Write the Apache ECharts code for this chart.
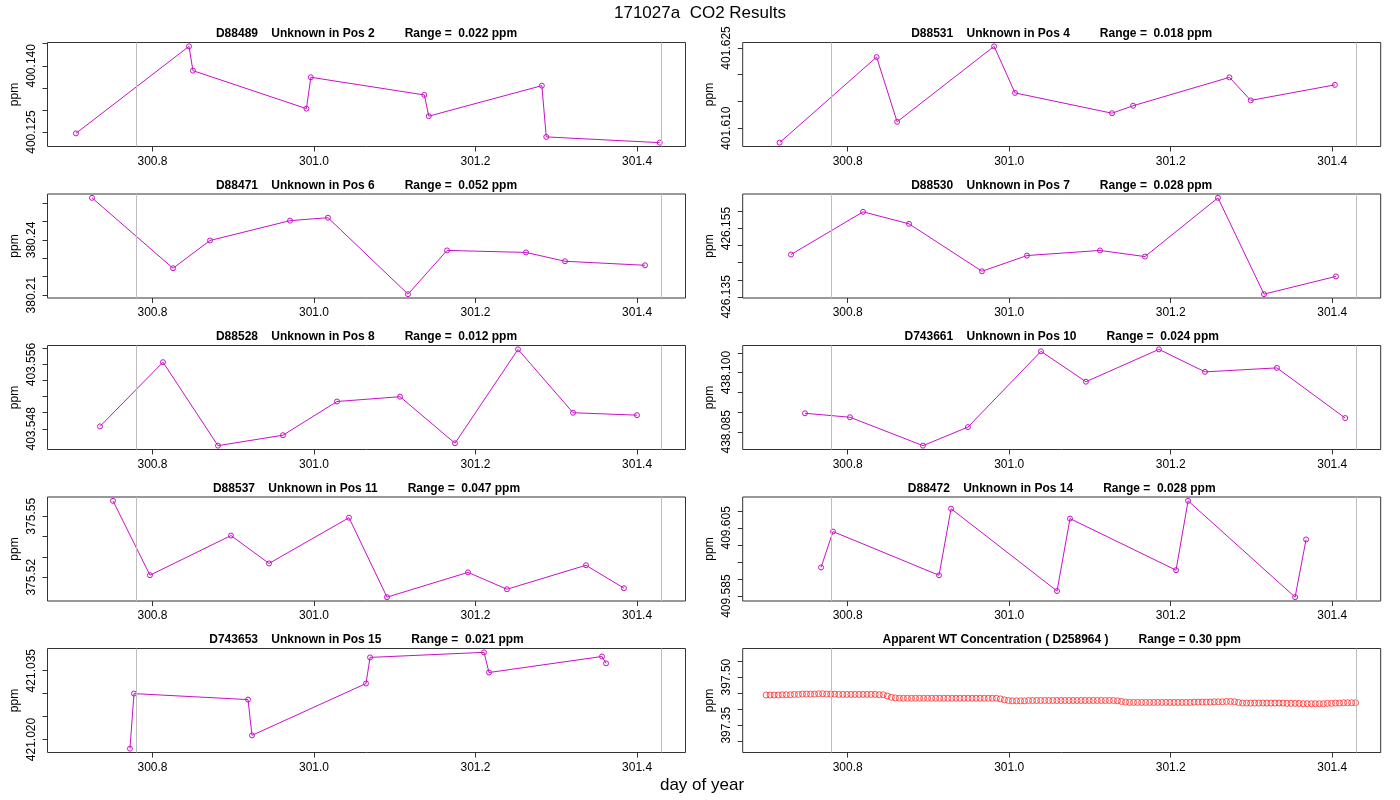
<!DOCTYPE html>
<html>
<head>
<meta charset="utf-8">
<script src="https://cdn.jsdelivr.net/npm/echarts@6/dist/echarts.min.js"></script>
<style>html,body{margin:0;padding:0;background:#fff}#c{width:1400px;height:800px}</style>
</head>
<body>
<div id="c"></div>
<script>
// ---------- data ----------
const mainTitle = '171027a  CO2 Results';
const xAxisTitle = 'day of year';
const xTickValues = [300.8, 301.0, 301.2, 301.4];
const xRange = [300.670, 301.460];
const refLineDays = [300.776, 301.431];

const panelTitles = [
  'D88489    Unknown in Pos 2         Range =  0.022 ppm',
  'D88531    Unknown in Pos 4         Range =  0.018 ppm',
  'D88471    Unknown in Pos 6         Range =  0.052 ppm',
  'D88530    Unknown in Pos 7         Range =  0.028 ppm',
  'D88528    Unknown in Pos 8         Range =  0.012 ppm',
  'D743661    Unknown in Pos 10         Range =  0.024 ppm',
  'D88537    Unknown in Pos 11         Range =  0.047 ppm',
  'D88472    Unknown in Pos 14         Range =  0.028 ppm',
  'D743653    Unknown in Pos 15         Range =  0.021 ppm',
  'Apparent WT Concentration ( D258964 )         Range = 0.30 ppm'
];

const p1Time = [300.7052, 300.8452, 300.8501, 300.9906, 300.9961, 301.1366, 301.1421, 301.2821, 301.2876, 301.4281];
const p1Ppm  = [400.1247, 400.1444, 400.1389, 400.1303, 400.1374, 400.1334, 400.1286, 400.1355, 400.1239, 400.1226];
const p2Time = [300.7157, 300.8358, 300.8612, 300.9813, 301.0072, 301.1273, 301.1534, 301.2727, 301.2991, 301.4033];
const p2Ppm  = [401.6073, 401.6233, 401.6112, 401.6253, 401.6166, 401.6128, 401.6142, 401.6195, 401.6152, 401.6181];
const p3Time = [300.7251, 300.8254, 300.8712, 300.9703, 301.0173, 301.1164, 301.1647, 301.2625, 301.3108, 301.4099];
const p3Ppm  = [380.2629, 380.2246, 380.2397, 380.2505, 380.2521, 380.2105, 380.2343, 380.2332, 380.2284, 380.2262];
const p4Time = [300.7298, 300.8190, 300.8759, 300.9663, 301.0220, 301.1124, 301.1681, 301.2585, 301.3155, 301.4046];
const p4Ppm  = [426.1474, 426.1599, 426.1564, 426.1425, 426.1471, 426.1486, 426.1468, 426.1640, 426.1358, 426.1410];
const p5Time = [300.7350, 300.8130, 300.8811, 300.9616, 301.0285, 301.1065, 301.1746, 301.2526, 301.3207, 301.3999];
const p5Ppm  = [403.5483, 403.5563, 403.5459, 403.5472, 403.5514, 403.5520, 403.5462, 403.5579, 403.5500, 403.5497];
const p6Time = [300.7471, 300.8028, 300.8932, 300.9489, 301.0393, 301.0950, 301.1854, 301.2424, 301.3315, 301.4160];
const p6Ppm  = [438.0897, 438.0887, 438.0815, 438.0862, 438.1054, 438.0977, 438.1059, 438.1002, 438.1012, 438.0885];
const p7Time = [300.7511, 300.7969, 300.8972, 300.9443, 301.0433, 301.0904, 301.1907, 301.2389, 301.3368, 301.3838];
const p7Ppm  = [375.5576, 375.5210, 375.5405, 375.5268, 375.5493, 375.5102, 375.5224, 375.5141, 375.5259, 375.5146];
const p8Time = [300.7670, 300.7818, 300.9131, 300.9280, 301.0592, 301.0753, 301.2066, 301.2215, 301.3540, 301.3676];
const p8Ppm  = [409.5934, 409.6039, 409.5911, 409.6106, 409.5865, 409.6077, 409.5926, 409.6129, 409.5847, 409.6016];
const p9Time = [300.7721, 300.7771, 300.9183, 300.9232, 301.0644, 301.0694, 301.2105, 301.2167, 301.3566, 301.3616];
const p9Ppm  = [421.0180, 421.0300, 421.0287, 421.0209, 421.0322, 421.0379, 421.0390, 421.0346, 421.0381, 421.0366];

const wtTime = [
  300.699, 300.704, 300.709, 300.714, 300.719, 300.724, 300.729, 300.734, 300.739, 300.744,
  300.749, 300.754, 300.759, 300.764, 300.769, 300.774, 300.779, 300.784, 300.789, 300.794,
  300.799, 300.804, 300.809, 300.814, 300.819, 300.824, 300.829, 300.834, 300.839, 300.844,
  300.849, 300.854, 300.859, 300.864, 300.869, 300.874, 300.879, 300.884, 300.889, 300.894,
  300.899, 300.904, 300.909, 300.914, 300.919, 300.924, 300.929, 300.934, 300.939, 300.944,
  300.949, 300.954, 300.959, 300.964, 300.969, 300.974, 300.979, 300.984, 300.989, 300.994,
  300.999, 301.004, 301.009, 301.014, 301.019, 301.024, 301.029, 301.034, 301.039, 301.044,
  301.049, 301.054, 301.059, 301.064, 301.069, 301.074, 301.079, 301.084, 301.089, 301.094,
  301.099, 301.104, 301.109, 301.114, 301.119, 301.124, 301.129, 301.134, 301.139, 301.144,
  301.149, 301.154, 301.159, 301.164, 301.169, 301.174, 301.179, 301.184, 301.189, 301.194,
  301.199, 301.204, 301.209, 301.214, 301.219, 301.224, 301.229, 301.234, 301.239, 301.244,
  301.249, 301.254, 301.259, 301.264, 301.269, 301.274, 301.279, 301.284, 301.289, 301.294,
  301.299, 301.304, 301.309, 301.314, 301.319, 301.324, 301.329, 301.334, 301.339, 301.344,
  301.349, 301.354, 301.359, 301.364, 301.369, 301.374, 301.379, 301.384, 301.389, 301.394,
  301.399, 301.404, 301.409, 301.414, 301.419, 301.424, 301.429
];
const wtPpm = [
  397.444, 397.444, 397.444, 397.444, 397.445, 397.445, 397.445, 397.446, 397.446, 397.447,
  397.447, 397.447, 397.447, 397.448, 397.448, 397.447, 397.447, 397.447, 397.446, 397.446,
  397.446, 397.446, 397.446, 397.446, 397.446, 397.446, 397.446, 397.446, 397.445, 397.445,
  397.441, 397.437, 397.435, 397.434, 397.434, 397.434, 397.434, 397.434, 397.434, 397.434,
  397.434, 397.434, 397.434, 397.434, 397.434, 397.434, 397.434, 397.434, 397.434, 397.434,
  397.434, 397.434, 397.434, 397.434, 397.434, 397.434, 397.434, 397.434, 397.432, 397.429,
  397.427, 397.426, 397.426, 397.426, 397.426, 397.427, 397.427, 397.427, 397.427, 397.427,
  397.427, 397.427, 397.427, 397.427, 397.427, 397.427, 397.427, 397.427, 397.427, 397.427,
  397.427, 397.427, 397.427, 397.427, 397.427, 397.427, 397.427, 397.426, 397.424, 397.422,
  397.421, 397.421, 397.421, 397.421, 397.421, 397.421, 397.421, 397.421, 397.421, 397.421,
  397.421, 397.421, 397.421, 397.421, 397.421, 397.421, 397.422, 397.422, 397.422, 397.422,
  397.422, 397.423, 397.423, 397.423, 397.424, 397.424, 397.423, 397.421, 397.419, 397.419,
  397.419, 397.419, 397.419, 397.419, 397.419, 397.419, 397.419, 397.419, 397.419, 397.418,
  397.418, 397.418, 397.418, 397.417, 397.417, 397.417, 397.417, 397.417, 397.417, 397.418,
  397.418, 397.419, 397.419, 397.420, 397.420, 397.420, 397.420
];
const wtYRange = [397.265, 397.589];

// y-axis ticks and the labels R managed to print
const yTicks = [
  [400.125, 400.130, 400.135, 400.140, 400.145],
  [401.610, 401.615, 401.620, 401.625],
  [380.21, 380.22, 380.23, 380.24, 380.25, 380.26],
  [426.135, 426.140, 426.145, 426.150, 426.155, 426.160],
  [403.548, 403.550, 403.552, 403.554, 403.556, 403.558],
  [438.085, 438.090, 438.095, 438.100, 438.105],
  [375.52, 375.53, 375.54, 375.55],
  [409.585, 409.590, 409.595, 409.600, 409.605, 409.610],
  [421.020, 421.025, 421.030, 421.035],
  [397.30, 397.35, 397.40, 397.45, 397.50, 397.55]
];
const yLabels = [
  ['400.125', '400.140'],
  ['401.610', '401.625'],
  ['380.21', '380.24'],
  ['426.135', '426.155'],
  ['403.548', '403.556'],
  ['438.085', '438.100'],
  ['375.52', '375.55'],
  ['409.585', '409.605'],
  ['421.020', '421.035'],
  ['397.35', '397.50']
];

const panelTimes = [p1Time, p2Time, p3Time, p4Time, p5Time, p6Time, p7Time, p8Time, p9Time, wtTime];
const panelPpm   = [p1Ppm, p2Ppm, p3Ppm, p4Ppm, p5Ppm, p6Ppm, p7Ppm, p8Ppm, p9Ppm, wtPpm];

// ---------- layout / style ----------
const FONT = '"Liberation Sans", Arial, Helvetica, sans-serif';
const MAG = '#C810C8';
const RED = '#FF2A2A';
const colLeft = [47.5, 742.7];
const boxW = 638;
const rowTop = [42.5, 194, 345.5, 497, 648.5];
const boxH = 104;

const grids = [], xAxes = [], yAxes = [], series = [], graphics = [];

for (let i = 0; i < 10; i++) {
  const col = i % 2, row = Math.floor(i / 2);
  const L = colLeft[col], T = rowTop[row];
  grids.push({left: L, top: T, width: boxW, height: boxH, show: true,
    borderColor: '#333', borderWidth: 1, backgroundColor: 'transparent', containLabel: false});

  xAxes.push({
    type: 'value', gridIndex: i, min: xRange[0], max: xRange[1],
    splitLine: {show: false}, axisLine: {show: false},
    axisTick: {show: true, inside: false, length: 5, customValues: xTickValues, lineStyle: {color: '#333'}},
    axisLabel: {show: true, customValues: xTickValues, margin: 9, color: '#000',
      fontFamily: FONT, fontSize: 12, formatter: v => v.toFixed(1)}
  });

  const t = panelTimes[i], p = panelPpm[i];
  let lo, hi;
  if (i === 9) { lo = wtYRange[0]; hi = wtYRange[1]; }
  else {
    const mn = Math.min(...p), mx = Math.max(...p), r = mx - mn;
    lo = mn - 0.04 * r; hi = mx + 0.04 * r;
  }
  const labs = yLabels[i];
  const ticks = yTicks[i].filter(v => v >= lo && v <= hi);
  yAxes.push({
    type: 'value', gridIndex: i, min: lo, max: hi, scale: true,
    name: 'ppm', nameLocation: 'middle', nameGap: 27, nameRotate: 90,
    nameTextStyle: {fontFamily: FONT, fontSize: 12, color: '#000'},
    splitLine: {show: false}, axisLine: {show: false},
    axisTick: {show: true, inside: false, length: 5, customValues: ticks, lineStyle: {color: '#333'}},
    axisLabel: {show: true, customValues: labs.map(Number), rotate: 90, margin: 10, color: '#000',
      fontFamily: FONT, fontSize: 12,
      formatter: v => { const s = labs.find(x => Math.abs(Number(x) - v) < 1e-7); return s || ''; }}
  });

  const data = t.map((x, k) => [x, p[k]]);
  const markLine = {silent: true, symbol: 'none', label: {show: false}, animation: false,
    lineStyle: {color: '#BEBEBE', type: 'solid', width: 1},
    data: refLineDays.map(d => ({xAxis: d}))};
  if (i < 9) {
    series.push({type: 'line', xAxisIndex: i, yAxisIndex: i, data, symbol: 'circle', symbolSize: 5,
      showSymbol: true, silent: true, lineStyle: {color: MAG, width: 1},
      itemStyle: {color: 'rgba(255,255,255,0)', borderColor: MAG, borderWidth: 1}, markLine, z: 3});
  } else {
    series.push({type: 'scatter', xAxisIndex: i, yAxisIndex: i, data, symbol: 'circle', symbolSize: 6,
      silent: true, itemStyle: {color: 'rgba(255,255,255,0)', borderColor: RED, borderWidth: 1}, markLine, z: 3});
  }

  graphics.push({type: 'text', x: L + boxW / 2, y: T - 8.5, silent: true,
    style: {text: panelTitles[i], align: 'center', verticalAlign: 'middle', fill: '#000',
      font: 'bold 12px ' + FONT}});
}

graphics.push({type: 'text', x: 700, y: 13, silent: true,
  style: {text: mainTitle, align: 'center', verticalAlign: 'middle', fill: '#000', font: '17px ' + FONT}});
graphics.push({type: 'text', x: 702, y: 785, silent: true,
  style: {text: xAxisTitle, align: 'center', verticalAlign: 'middle', fill: '#000', font: '17px ' + FONT}});

const chart = echarts.init(document.getElementById('c'), null, {renderer: 'canvas'});
chart.setOption({
  animation: false,
  backgroundColor: '#fff',
  grid: grids, xAxis: xAxes, yAxis: yAxes, series,
  graphic: graphics
});
</script>
</body>
</html>
